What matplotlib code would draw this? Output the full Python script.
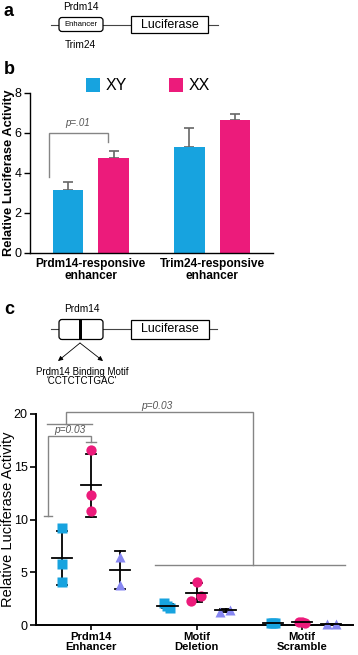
import matplotlib
matplotlib.use("Agg")
import matplotlib.pyplot as plt
from matplotlib.patches import FancyBboxPatch, Rectangle
import numpy as np

plt.rcParams['font.family'] = ['Liberation Sans', 'DejaVu Sans']

# ---------------- data ----------------
b_groups = ["Prdm14-responsive\nenhancer", "Trim24-responsive\nenhancer"]
b_series = ["XY", "XX"]
b_xy = [3.15, 5.27]
b_xy_err = [0.37, 0.98]
b_xx = [4.73, 6.62]
b_xx_err = [0.33, 0.30]
b_yticks = [0, 2, 4, 6, 8]

c_groups = ["Prdm14\nEnhancer", "Motif\nDeletion", "Motif\nScramble"]
c_series = ["XY", "XX", "XO"]
c_xy = [[9.18, 5.77, 4.13], [2.08, 1.80, 1.65], [0.25, 0.22, 0.20]]
c_xx = [[16.6, 12.36, 10.85], [4.07, 2.77, 2.33], [0.28, 0.25, 0.30]]
c_xo = [[6.5, 3.8], [1.29, 1.45], [0.10, 0.12]]
c_xy_jit = [[0, 0, 0], [-0.03, 0.0, 0.02], [-0.02, 0.02, 0.0]]
c_xx_jit = [[0, 0, 0], [0.0, 0.045, -0.05], [-0.03, 0.03, 0.0]]
c_xo_jit = [[0, 0], [-0.05, 0.04], [-0.04, 0.05]]
c_xy_mean = [6.36, 1.80, 0.22]
c_xy_sd = [2.55, 0.20, 0.03]
c_xx_mean = [13.27, 3.06, 0.27]
c_xx_sd = [2.98, 0.90, 0.03]
c_xo_mean = [5.20, 1.42, 0.11]
c_xo_sd = [1.80, 0.15, 0.02]
c_yticks = [0, 5, 10, 15, 20]

BLUE = "#17A3DF"
PINK = "#EC1B7B"
PURPLE = "#8787F2"
GRAY = "#858585"

W, H = 358, 655
fig = plt.figure(figsize=(W / 100, H / 100), dpi=100)

def ax_px(l, t, r, b):
    return fig.add_axes([l / W, 1 - b / H, (r - l) / W, (b - t) / H])

# overlay for diagrams / letters / legends
ov = fig.add_axes([0, 0, 1, 1])
ov.set_xlim(0, W)
ov.set_ylim(H, 0)
ov.axis('off')

def letter(x, y, s):
    ov.text(x, y, s, fontsize=13, fontweight='bold', ha='left', va='center')

letter(4, 12, 'a')
letter(4, 70, 'b')
letter(4, 309, 'c')

# ---- panel a diagram ----
ov.plot([51, 218], [25, 25], color='#444444', lw=0.8)
ov.add_patch(FancyBboxPatch((59, 17.5), 44, 14, boxstyle="round,pad=0,rounding_size=3",
                            fc='white', ec='black', lw=0.9, zorder=3))
ov.text(81, 25, 'Enhancer', fontsize=5.6, ha='center', va='center', zorder=4)
ov.add_patch(Rectangle((131, 16), 77, 17, fc='white', ec='black', lw=0.9, zorder=3))
ov.text(169.5, 24.5, 'Luciferase', fontsize=9, ha='center', va='center', zorder=4)
ov.text(81, 7, 'Prdm14', fontsize=7.3, ha='center', va='center')
ov.text(80, 45, 'Trim24', fontsize=7.3, ha='center', va='center')

# ---- panel c diagram ----
ov.plot([51, 217], [329, 329], color='#444444', lw=0.8)
ov.add_patch(FancyBboxPatch((59, 319.5), 44, 20, boxstyle="round,pad=0,rounding_size=3",
                            fc='white', ec='black', lw=0.9, zorder=3))
ov.add_patch(Rectangle((78.5, 319.5), 3, 20, fc='black', ec='none', zorder=4))
ov.add_patch(Rectangle((131, 320), 78, 19, fc='white', ec='black', lw=0.9, zorder=3))
ov.text(170, 329, 'Luciferase', fontsize=9, ha='center', va='center', zorder=4)
ov.text(82, 309, 'Prdm14', fontsize=7.3, ha='center', va='center')
for xe in (58, 103):
    ov.annotate('', xy=(xe, 361), xytext=(80, 343),
                arrowprops=dict(arrowstyle='-|>', color='black', lw=0.6,
                                mutation_scale=7, shrinkA=0, shrinkB=0))
ov.text(82, 372, 'Prdm14 Binding Motif', fontsize=7, ha='center', va='center')
ov.text(82, 381.5, "'CCTCTCTGAC'", fontsize=7, ha='center', va='center')

# ---------------- panel b ----------------
axb = ax_px(30, 92.7, 273, 252.7)
xb = np.arange(len(b_groups))
off, bw = 0.1875, 0.25
axb.bar(xb - off, b_xy, bw, color=BLUE, zorder=2)
axb.bar(xb + off, b_xx, bw, color=PINK, zorder=2)
for vals, errs, sgn in ((b_xy, b_xy_err, -1), (b_xx, b_xx_err, 1)):
    axb.errorbar(xb + sgn * off, vals, yerr=[np.zeros(len(vals)), errs], fmt='none',
                 ecolor='#666666', elinewidth=1.2, capsize=3.5, capthick=1.2, zorder=1)
axb.set_xlim(-0.5, 1.5)
axb.set_ylim(0, 8)
axb.set_yticks(b_yticks)
axb.set_xticks(xb)
axb.set_xticklabels(b_groups, fontsize=8.6, fontweight='bold', linespacing=1.0)
axb.tick_params(axis='x', length=0, pad=4)
axb.tick_params(axis='y', labelsize=9, length=4, width=1, pad=2)
for s in ('top', 'right'):
    axb.spines[s].set_visible(False)
for s in ('left', 'bottom'):
    axb.spines[s].set_linewidth(1.0)
axb.set_ylabel('Relative Luciferase Activity', fontsize=9.3, fontweight='bold')
axb.yaxis.set_label_coords(-0.062, 0.5)
# significance bracket
axb.plot([-0.34, -0.34, 0.146, 0.146], [3.8, 5.97, 5.97, 5.55], color=GRAY, lw=1.0,
         solid_joinstyle='miter')
axb.text(-0.11, 6.25, 'p=.01', fontsize=7, style='italic', color='#555555',
         ha='center', va='bottom')
# legend b
for xl, col, lab in ((86, BLUE, b_series[0]), (169, PINK, b_series[1])):
    ov.add_patch(Rectangle((xl, 77.5), 14, 14, fc=col, ec='none'))
    ov.text(xl + 20, 85, lab, fontsize=11.5, ha='left', va='center')

# ---------------- panel c ----------------
axc = ax_px(36, 414, 353, 625.3)
xc = np.arange(len(c_groups))
so = 0.275
mw, cw = 0.095, 0.05
specs = [
    (c_xy, c_xy_jit, c_xy_mean, c_xy_sd, -so, BLUE, 's', 6.5),
    (c_xx, c_xx_jit, c_xx_mean, c_xx_sd, 0.0, PINK, 'o', 7.4),
    (c_xo, c_xo_jit, c_xo_mean, c_xo_sd, so, PURPLE, '^', 7.6),
]
for vals, jit, means, sds, o, col, mk, ms in specs:
    for g in range(len(c_groups)):
        xs = xc[g] + o + np.array(jit[g])
        axc.plot(xs, vals[g], linestyle='none', marker=mk, ms=ms, color=col,
                 mec='none', zorder=3, clip_on=False)
        xm = xc[g] + o
        axc.plot([xm, xm], [means[g] - sds[g], means[g] + sds[g]], color='black', lw=1.3, zorder=2)
        for yy in (means[g] - sds[g], means[g] + sds[g]):
            axc.plot([xm - cw, xm + cw], [yy, yy], color='black', lw=1.3, zorder=2)
        axc.plot([xm - mw, xm + mw], [means[g], means[g]], color='black', lw=1.3, zorder=4)
axc.set_xlim(-0.521, 2.483)
axc.set_ylim(0, 20)
axc.set_yticks(c_yticks)
axc.set_xticks(xc)
axc.set_xticklabels(c_groups, fontsize=8.1, fontweight='bold', linespacing=1.0)
axc.tick_params(axis='x', length=3.5, width=1.2, pad=1.2)
axc.tick_params(axis='y', labelsize=9, length=4, width=1.2, pad=2)
for s in ('top', 'right'):
    axc.spines[s].set_visible(False)
for s in ('left', 'bottom'):
    axc.spines[s].set_linewidth(1.4)
axc.set_ylabel('Relative Luciferase Activity', fontsize=10.5)
axc.yaxis.set_label_coords(-0.066, 0.5)
# brackets
kw = dict(color=GRAY, lw=1.0, clip_on=False, solid_joinstyle='miter')
axc.plot([-0.405, -0.405, 0.0, 0.0], [10.37, 17.9, 17.9, 17.37], **kw)
axc.plot([-0.445, -0.365], [10.37, 10.37], **kw)
axc.plot([-0.045, 0.045], [17.37, 17.37], **kw)
axc.text(-0.2, 18.0, 'p=0.03', fontsize=7.3, style='italic', color='#555555',
         ha='center', va='bottom')
axc.plot([-0.42, 0.007], [19.05, 19.05], **kw)
axc.plot([-0.237, -0.237, 1.538, 1.538], [19.05, 20.2, 20.2, 5.7], **kw)
axc.plot([0.607, 2.41], [5.7, 5.7], **kw)
axc.text(0.625, 20.3, 'p=0.03', fontsize=7.3, style='italic', color='#555555',
         ha='center', va='bottom', clip_on=False)
# legend c
for yy, col, mk, ms, lab in ((425.7, BLUE, 's', 6.5, c_series[0]),
                             (446.7, PINK, 'o', 7.4, c_series[1]),
                             (466.7, PURPLE, '^', 7.6, c_series[2])):
    ov.plot([293], [yy], marker=mk, ms=ms, color=col, mec='none', linestyle='none')
    ov.text(310, yy, lab, fontsize=11.5, ha='left', va='center')

fig.savefig('out.png', dpi=100)
